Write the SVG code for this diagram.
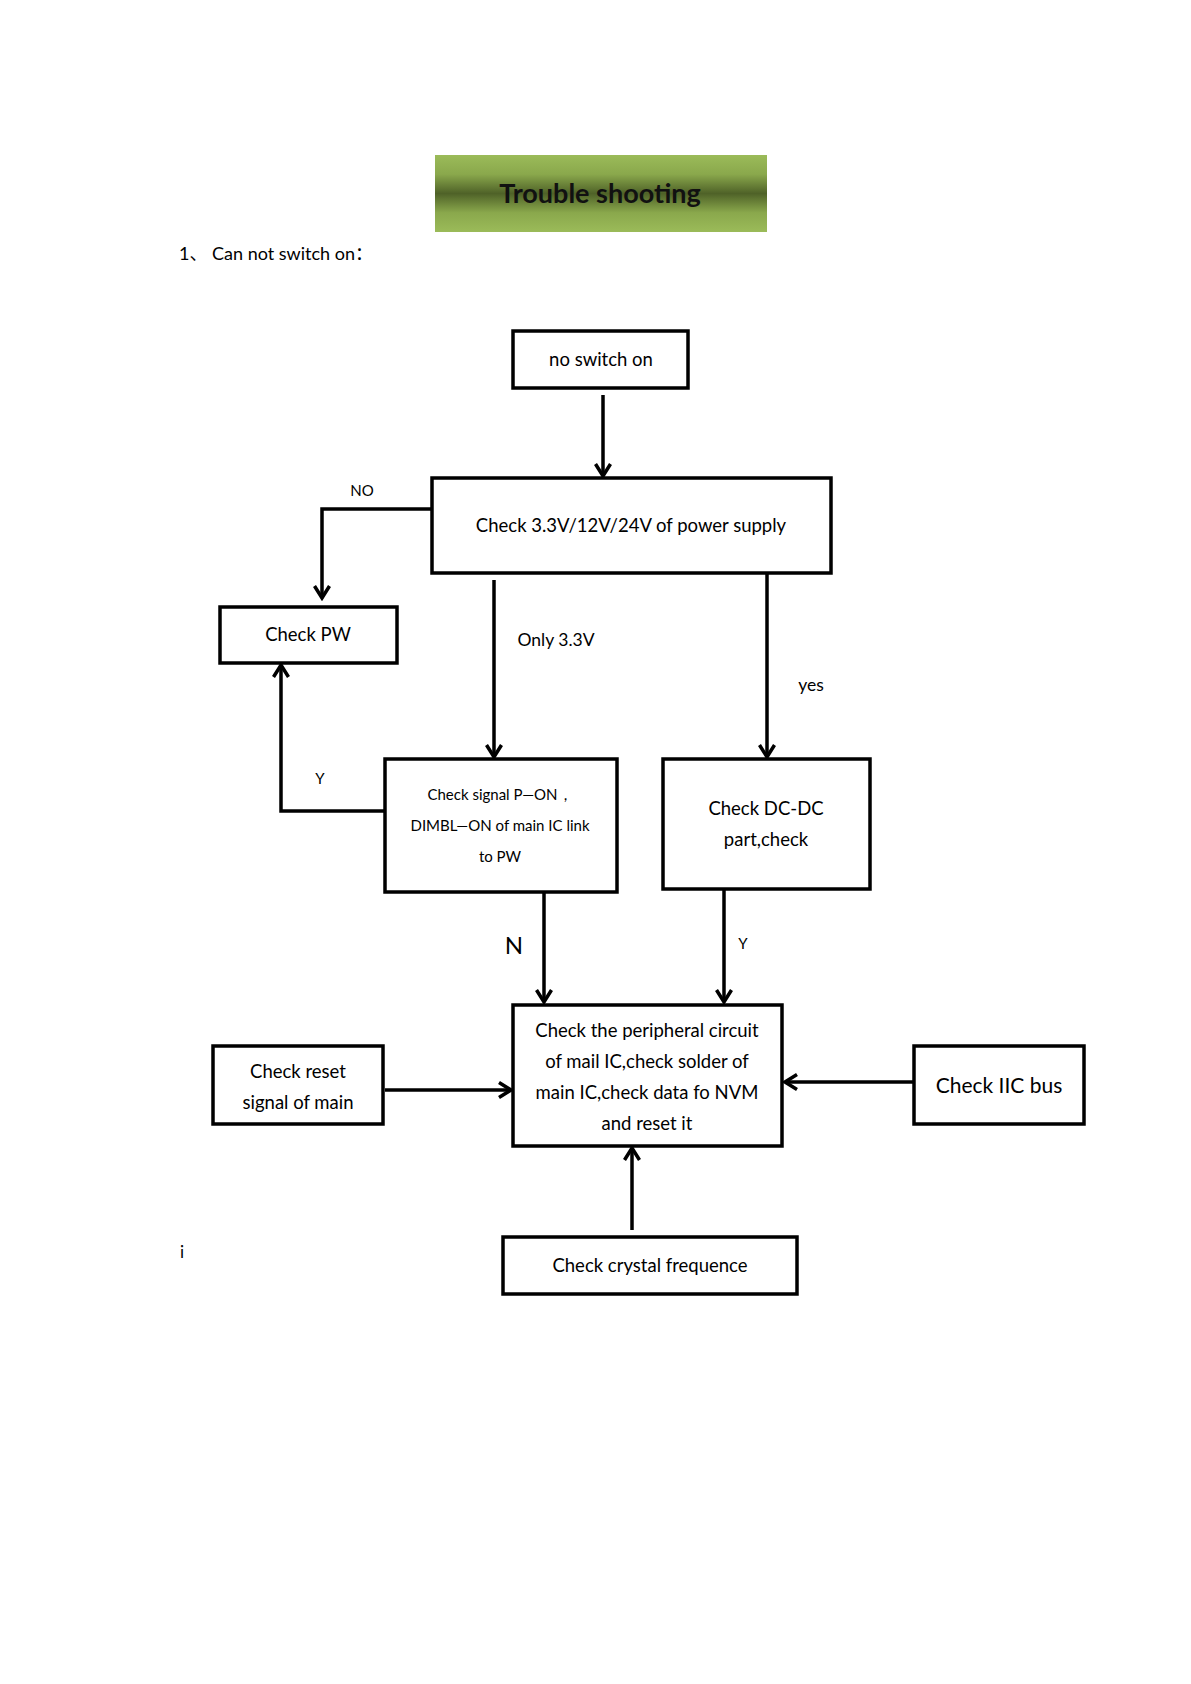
<svg xmlns="http://www.w3.org/2000/svg" width="1191" height="1684" viewBox="0 0 1191 1684">
<defs>
<linearGradient id="g" x1="0" y1="0" x2="0" y2="1">
<stop offset="0" stop-color="#9bbb59"/>
<stop offset="0.25" stop-color="#8aa84c"/>
<stop offset="0.5" stop-color="#4f6228"/>
<stop offset="0.75" stop-color="#8aa84c"/>
<stop offset="1" stop-color="#9bbb59"/>
</linearGradient>
<marker id="ah" viewBox="0 0 20 20" refX="17" refY="10" markerWidth="20" markerHeight="20" markerUnits="userSpaceOnUse" orient="auto">
<path d="M5,2.5 L17,10 L5,17.5" fill="none" stroke="#000" stroke-width="3.5"/>
</marker>
<style>
.box{fill:#fff;stroke:#000;stroke-width:3.5}
.t{font-family:Lato,"Open Sans","Liberation Sans",sans-serif;font-size:18.5px;fill:#000;text-anchor:middle}
.s{font-size:15px}
.l{font-family:Lato,"Open Sans","Liberation Sans",sans-serif;font-size:17.5px;fill:#000}
.c{fill:none;stroke:#000;stroke-width:3.5;marker-end:url(#ah)}
</style>
</defs>
<rect width="1191" height="1684" fill="#fff"/>
<g id="title">
<rect x="435" y="155" width="332" height="77" fill="url(#g)"/>
<text x="600" y="203" class="t" style="font-size:27px;font-weight:bold;fill:#111">Trouble shooting</text>
</g>
<text x="179" y="260" class="l" style="font-family:Lato,'Noto Sans CJK SC',sans-serif;font-size:18px">1、 Can not switch on：</text>
<text x="180" y="1258" class="l" style="font-size:17px">i</text>
<g id="connectors">
<line x1="603" y1="395" x2="603" y2="476" class="c"/>
<polyline points="431,509 322,509 322,598" class="c"/>
<line x1="494" y1="580" x2="494" y2="757" class="c"/>
<line x1="767" y1="573" x2="767" y2="757" class="c"/>
<polyline points="384,811 281,811 281,665" class="c"/>
<line x1="544" y1="891" x2="544" y2="1002" class="c"/>
<line x1="724" y1="888" x2="724" y2="1002" class="c"/>
<line x1="385" y1="1090" x2="511" y2="1090" class="c"/>
<line x1="913" y1="1082" x2="785" y2="1082" class="c"/>
<line x1="632" y1="1230" x2="632" y2="1148" class="c"/>
<text x="362" y="496" class="l" style="font-size:15px" text-anchor="middle">NO</text>
<text x="556" y="646" class="l" text-anchor="middle">Only 3.3V</text>
<text x="811" y="691" class="l" text-anchor="middle">yes</text>
<text x="320" y="784" class="l" style="font-size:15px" text-anchor="middle">Y</text>
<text x="514" y="954" class="l" style="font-size:24px" text-anchor="middle">N</text>
<text x="743" y="949" class="l" style="font-size:15px" text-anchor="middle">Y</text>
</g>
<g id="n1">
<rect x="513" y="331" width="175" height="57" class="box"/>
<text x="601" y="366" class="t">no switch on</text>
</g>
<g id="n2">
<rect x="432" y="478" width="399" height="95" class="box"/>
<text x="631" y="532" class="t">Check 3.3V/12V/24V of power supply</text>
</g>
<g id="n3">
<rect x="220" y="607" width="177" height="56" class="box"/>
<text x="308" y="641" class="t">Check PW</text>
</g>
<g id="n4">
<rect x="385" y="759" width="232" height="133" class="box"/>
<text x="500" y="800" class="t s">Check signal P—ON，</text>
<text x="500" y="831" class="t s">DIMBL—ON of main IC link</text>
<text x="500" y="862" class="t s">to PW</text>
</g>
<g id="n5">
<rect x="663" y="759" width="207" height="130" class="box"/>
<text x="766" y="815" class="t">Check DC-DC</text>
<text x="766" y="846" class="t">part,check</text>
</g>
<g id="n6">
<rect x="513" y="1005" width="269" height="141" class="box"/>
<text x="647" y="1037" class="t">Check the peripheral circuit</text>
<text x="647" y="1068" class="t">of mail IC,check solder of</text>
<text x="647" y="1099" class="t">main IC,check data fo NVM</text>
<text x="647" y="1130" class="t">and reset it</text>
</g>
<g id="n7">
<rect x="213" y="1046" width="170" height="78" class="box"/>
<text x="298" y="1078" class="t">Check reset</text>
<text x="298" y="1109" class="t">signal of main</text>
</g>
<g id="n8">
<rect x="914" y="1046" width="170" height="78" class="box"/>
<text x="999" y="1093" class="t" style="font-size:21px">Check IIC bus</text>
</g>
<g id="n9">
<rect x="503" y="1237" width="294" height="57" class="box"/>
<text x="650" y="1272" class="t">Check crystal frequence</text>
</g>
</svg>
